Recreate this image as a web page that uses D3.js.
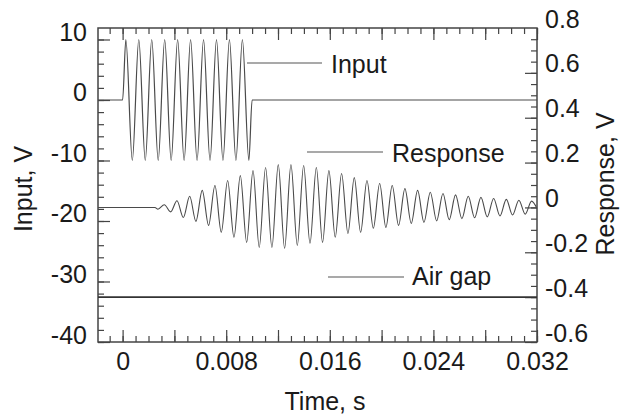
<!DOCTYPE html>
<html>
<head>
<meta charset="utf-8">
<script src="https://cdn.jsdelivr.net/npm/d3@7/dist/d3.min.js"></script>
<style>
  body { margin: 0; background: #fff; }
  svg { display: block; }
</style>
</head>
<body>
<script>
// turning points (time in s)
const inputTime = [-0.0019, 0, 0.00025, 0.00075, 0.00125, 0.00175, 0.00225, 0.00275, 0.00325, 0.00375,
  0.00425, 0.00475, 0.00525, 0.00575, 0.00625, 0.00675, 0.00725, 0.00775, 0.00825, 0.00875,
  0.00925, 0.00975, 0.0100, 0.032];
const inputVolt = [0, 0, 10, -10, 10, -10, 10, -10, 10, -10,
  10, -10, 10, -10, 10, -10, 10, -10, 10, -10,
  10, -10, 0, 0];

const responseTime = [-0.0019, 0.0025,
  0.00273, 0.00322, 0.00371, 0.00420, 0.00469, 0.00518, 0.00566, 0.00615, 0.00664, 0.00713,
  0.00762, 0.00811, 0.00860, 0.00909, 0.00958, 0.01007, 0.01055, 0.01104, 0.01153, 0.01202,
  0.01251, 0.01300, 0.01349, 0.01398, 0.01447, 0.01496, 0.01544, 0.01593, 0.01642, 0.01691,
  0.01740, 0.01789, 0.01838, 0.01887, 0.01936, 0.01985, 0.02033, 0.02082, 0.02131, 0.02180,
  0.02229, 0.02278, 0.02327, 0.02376, 0.02425, 0.02474, 0.02522, 0.02571, 0.02620, 0.02669,
  0.02718, 0.02767, 0.02816, 0.02865, 0.02914, 0.02963, 0.03011, 0.03060, 0.03109, 0.03158,
  0.032];
const responseVolt = [0, 0,
  -0.008, 0.012, -0.02, 0.03, -0.045, 0.05, -0.062, 0.076, -0.08, 0.098,
  -0.111, 0.12, -0.133, 0.142, -0.156, 0.164, -0.178, 0.178, -0.178, 0.191,
  -0.182, 0.191, -0.169, 0.187, -0.16, 0.178, -0.156, 0.164, -0.133, 0.151,
  -0.116, 0.133, -0.111, 0.12, -0.093, 0.107, -0.089, 0.098, -0.08, 0.084,
  -0.071, 0.076, -0.066, 0.068, -0.06, 0.062, -0.055, 0.056, -0.05, 0.05,
  -0.046, 0.045, -0.042, 0.04, -0.038, 0.036, -0.034, 0.032, -0.03, 0.028,
  -0.005];

const airGapTime = [-0.0019, 0.032];
const airGapVolt = [-0.4, -0.4];

const inputTicks = [-40, -30, -20, -10, 0, 10];
const inputLabels = ["-40", "-30", "-20", "-10", "0", "10"];
const responseTicks = [-0.6, -0.4, -0.2, 0, 0.2, 0.4, 0.6, 0.8];
const responseLabels = ["-0.6", "-0.4", "-0.2", "0", "0.2", "0.4", "0.6", "0.8"];
const timeTicks = [0, 0.004, 0.008, 0.012, 0.016, 0.020, 0.024, 0.028, 0.032];
const timeLabels = ["0", "", "0.008", "", "0.016", "", "0.024", "", "0.032"];

const font = "Arial, 'Liberation Sans', Helvetica, sans-serif";
const ink = "#444";

let svg = d3.select("body").append("svg")
  .attr("width", 621)
  .attr("height", 419)
  .style("background", "#fff");

let x = d3.scaleLinear().domain([-0.0019, 0.032]).range([98, 537]);
let yIn = d3.scaleLinear().domain([-40, 11.9]).range([342, 28]);
let yRes = d3.scaleLinear().domain([-0.6, 0.8]).range([342, 28]);

function tidy(g) {
  g.select(".domain").remove();
  g.selectAll("line").attr("stroke", ink).attr("stroke-width", 1.2);
  g.selectAll("text")
    .attr("font-size", 25)
    .attr("font-family", font)
    .attr("fill", "#1a1a1a");
}

// minor ticks
svg.append("g").attr("transform", "translate(98,0)")
  .call(d3.axisLeft(yIn).tickValues(d3.range(-40, 12, 2)).tickSize(-6).tickFormat(""))
  .call(tidy);
svg.append("g").attr("transform", "translate(537,0)")
  .call(d3.axisRight(yRes).tickValues(d3.range(-12, 16).map(d => d * 0.05)).tickSize(-6).tickFormat(""))
  .call(tidy);
svg.append("g").attr("transform", "translate(0,342)")
  .call(d3.axisBottom(x).tickValues(d3.range(-1, 33).map(d => d * 0.001)).tickSize(-6).tickFormat(""))
  .call(tidy);
svg.append("g").attr("transform", "translate(0,28)")
  .call(d3.axisTop(x).tickValues(d3.range(-1, 33).map(d => d * 0.001)).tickSize(-6).tickFormat(""))
  .call(tidy);

// major ticks + labels
svg.append("g").attr("transform", "translate(98,0)")
  .call(d3.axisLeft(yIn).tickValues(inputTicks).tickSize(-12).tickPadding(11)
    .tickFormat((d, i) => inputLabels[i]))
  .call(tidy)
  .selectAll("text").attr("transform", "translate(0,-7)");

let right = svg.append("g").attr("transform", "translate(537,0)")
  .call(d3.axisRight(yRes).tickValues(responseTicks).tickSize(-12).tickPadding(8)
    .tickFormat((d, i) => responseLabels[i]))
  .call(tidy);
right.selectAll("text").attr("transform", "translate(0,-9)");
right.selectAll(".tick").filter(d => d > 0.75).select("line").remove();

svg.append("g").attr("transform", "translate(0,342)")
  .call(d3.axisBottom(x).tickValues(timeTicks).tickSize(-12).tickPadding(10)
    .tickFormat((d, i) => timeLabels[i]))
  .call(tidy);
svg.append("g").attr("transform", "translate(0,28)")
  .call(d3.axisTop(x).tickValues(timeTicks).tickSize(-12).tickFormat(""))
  .call(tidy);

// frame
svg.append("rect")
  .attr("x", 98).attr("y", 28)
  .attr("width", 537 - 98).attr("height", 342 - 28)
  .attr("fill", "none")
  .attr("stroke", ink)
  .attr("stroke-width", 1.5);

// curves
let inLine = d3.line()
  .x(d => x(d[0]))
  .y(d => yIn(d[1]))
  .curve(d3.curveMonotoneX);
let resLine = d3.line()
  .x(d => x(d[0]))
  .y(d => yRes(d[1]))
  .curve(d3.curveMonotoneX);

svg.append("path")
  .datum(d3.zip(inputTime, inputVolt))
  .attr("d", inLine)
  .attr("fill", "none")
  .attr("stroke", "#4a4a4a")
  .attr("stroke-width", 1.2);

svg.append("path")
  .datum(d3.zip(responseTime, responseVolt))
  .attr("d", resLine)
  .attr("fill", "none")
  .attr("stroke", "#4a4a4a")
  .attr("stroke-width", 1.1);

svg.append("path")
  .datum(d3.zip(airGapTime, airGapVolt))
  .attr("d", resLine)
  .attr("fill", "none")
  .attr("stroke", "#333")
  .attr("stroke-width", 1.8);

// labels with leader lines
const notes = [
  { text: "Input", x1: 247, x2: 322, y: 63, tx: 331, ty: 73 },
  { text: "Response", x1: 307, x2: 383, y: 152, tx: 392, ty: 162 },
  { text: "Air gap", x1: 328, x2: 404, y: 277, tx: 412, ty: 285 }
];
let note = svg.append("g").selectAll("g").data(notes).join("g");
note.append("line")
  .attr("x1", d => d.x1).attr("x2", d => d.x2)
  .attr("y1", d => d.y).attr("y2", d => d.y)
  .attr("stroke", "#555").attr("stroke-width", 1.2);
note.append("text")
  .attr("x", d => d.tx).attr("y", d => d.ty)
  .attr("font-size", 25).attr("font-family", font).attr("fill", "#1a1a1a")
  .text(d => d.text);

// axis titles
svg.append("text")
  .attr("transform", "translate(32,189) rotate(-90)")
  .attr("text-anchor", "middle")
  .attr("font-size", 25).attr("font-family", font).attr("fill", "#1a1a1a")
  .text("Input, V");
svg.append("text")
  .attr("transform", "translate(614,184) rotate(-90)")
  .attr("text-anchor", "middle")
  .attr("font-size", 25).attr("font-family", font).attr("fill", "#1a1a1a")
  .text("Response, V");
svg.append("text")
  .attr("x", 325).attr("y", 410)
  .attr("text-anchor", "middle")
  .attr("font-size", 25).attr("font-family", font).attr("fill", "#1a1a1a")
  .text("Time, s");
</script>
</body>
</html>
